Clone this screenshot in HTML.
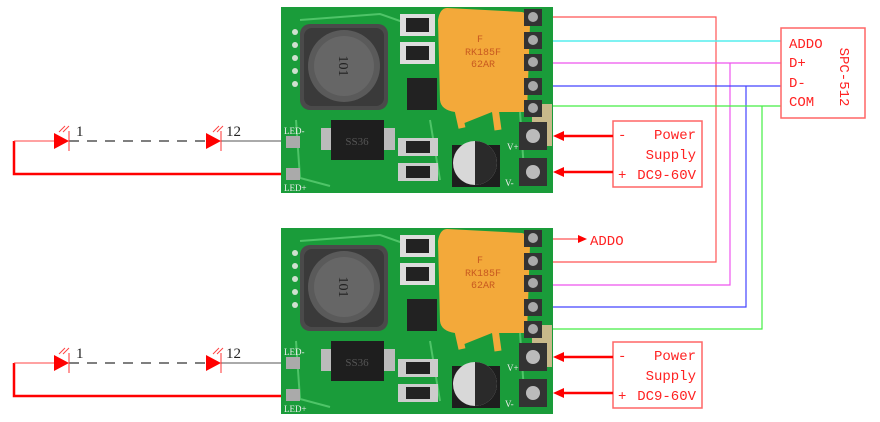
<!DOCTYPE html>
<html><head><meta charset="utf-8"><style>
html,body{margin:0;padding:0;background:#fff;width:880px;height:422px;overflow:hidden}
svg{display:block}
text{font-family:"Liberation Serif",serif}
.m{font-family:"Liberation Mono",monospace}
</style></head><body>
<svg width="880" height="422" viewBox="0 0 880 422" xmlns="http://www.w3.org/2000/svg">
<defs>
<g id="board">
  <rect x="281" y="7" width="272" height="186" fill="#1a9c3a"/>
  <path d="M300 20 L380 14 L420 28 M296 120 L300 178 L330 186 M430 120 L440 180 M520 112 L525 185" stroke="#4fc468" stroke-width="2" fill="none"/>
  <g fill="#cfe0cf"><circle cx="295" cy="32" r="3"/><circle cx="295" cy="45" r="3"/><circle cx="295" cy="58" r="3"/><circle cx="295" cy="71" r="3"/><circle cx="295" cy="84" r="3"/></g>
  <rect x="300" y="24" width="88" height="86" rx="10" fill="#4a4a4a"/>
  <rect x="304" y="28" width="80" height="78" rx="8" fill="#3a3a3a"/>
  <circle cx="344" cy="66" r="36" fill="#5a5a5a"/>
  <circle cx="344" cy="66" r="30" fill="#666"/>
  <text x="344" y="66" font-size="14" fill="#222" text-anchor="middle" transform="rotate(90 344 66)" dy="5">101</text>
  <rect x="400" y="14" width="35" height="22" fill="#ddd"/><rect x="406" y="18" width="23" height="14" fill="#222"/>
  <rect x="400" y="42" width="35" height="22" fill="#ddd"/><rect x="406" y="46" width="23" height="14" fill="#222"/>
  <rect x="407" y="78" width="30" height="32" fill="#222"/>
  <path d="M447 8 L522 12 Q530 14 530 24 L527 112 L492 112 L462 124 L455 112 Q441 110 440 100 L438 20 Q440 8 447 8 Z" fill="#f3a93a"/>
  <path d="M458 110 L462 128 M495 108 L498 130" stroke="#f3a93a" stroke-width="7"/>
  <text x="480" y="42" font-size="10" fill="#c85a20" text-anchor="middle" class="m">F</text>
  <text x="483" y="55" font-size="10" fill="#c85a20" text-anchor="middle" class="m">RK185F</text>
  <text x="483" y="67" font-size="10" fill="#c85a20" text-anchor="middle" class="m">62AR</text>
  <rect x="321" y="128" width="15" height="22" fill="#bbb"/><rect x="380" y="128" width="15" height="22" fill="#bbb"/>
  <rect x="331" y="120" width="53" height="40" fill="#1e1e1e"/>
  <text x="357" y="145" font-size="11" fill="#555" text-anchor="middle" font-family="Liberation Sans,sans-serif">SS36</text>
  <rect x="398" y="138" width="40" height="18" fill="#ccc"/><rect x="406" y="141" width="24" height="12" fill="#222"/>
  <rect x="398" y="163" width="40" height="18" fill="#ccc"/><rect x="406" y="166" width="24" height="12" fill="#222"/>
  <rect x="452" y="145" width="48" height="42" fill="#1e1e1e"/>
  <circle cx="475" cy="163" r="22" fill="#d8d8d8"/>
  <path d="M475 141 A22 22 0 0 1 475 185 Z" fill="#2a2a2a"/>
  <text x="284" y="134" font-size="9" fill="#eee" font-family="Liberation Sans,sans-serif">LED-</text>
  <rect x="286" y="136" width="14" height="12" fill="#aaa"/>
  <rect x="286" y="168" width="14" height="12" fill="#aaa"/>
  <text x="284" y="191" font-size="9" fill="#eee" font-family="Liberation Sans,sans-serif">LED+</text>
  <rect x="532" y="104" width="20" height="42" fill="#c8b98a"/>
  <g fill="#333"><rect x="524" y="9" width="18" height="17"/><rect x="524" y="32" width="18" height="17"/><rect x="524" y="54" width="18" height="17"/><rect x="524" y="78" width="18" height="17"/><rect x="524" y="100" width="18" height="17"/></g>
  <g fill="#aaa"><circle cx="533" cy="17" r="5"/><circle cx="533" cy="40" r="5"/><circle cx="533" cy="62" r="5"/><circle cx="533" cy="86" r="5"/><circle cx="533" cy="108" r="5"/></g>
  <rect x="519" y="122" width="28" height="28" fill="#333"/><circle cx="533" cy="136" r="7" fill="#bbb"/>
  <rect x="519" y="158" width="28" height="28" fill="#333"/><circle cx="533" cy="172" r="7" fill="#bbb"/>
  <text x="507" y="150" font-size="9" fill="#eee" font-family="Liberation Sans,sans-serif">V+</text>
  <text x="505" y="186" font-size="9" fill="#eee" font-family="Liberation Sans,sans-serif">V-</text>
</g>
<g id="leds">
  <path d="M14 141 L14 174 L281 174" stroke="#f00" stroke-width="2.5" fill="none"/>
  <path d="M14 141 L54 141" stroke="#f44" stroke-width="1" fill="none"/>
  <path d="M69 141 L206 141" stroke="#555" stroke-width="1.5" stroke-dasharray="10 8" fill="none"/>
  <path d="M221 141 L281 141" stroke="#555" stroke-width="1" fill="none"/>
  <polygon points="54,133 54,149 69,141" fill="#f00"/><line x1="69" y1="131" x2="69" y2="151" stroke="#f33"/>
  <polygon points="206,133 206,149 221,141" fill="#f00"/><line x1="221" y1="131" x2="221" y2="151" stroke="#f33"/>
  <path d="M59 132 L65 126 M63 132 L69 126 M213 132 L219 126 M217 132 L223 126" stroke="#f44" stroke-width="1"/>
  <text x="76" y="136" font-size="15" fill="#222">1</text>
  <text x="226" y="136" font-size="15" fill="#222">12</text>
</g>
<g id="power">
  <rect x="613" y="121" width="89" height="66" fill="#fff" stroke="#f66" stroke-width="1.5"/>
  <text x="618" y="139" font-size="14" fill="#f22" class="m">-</text>
  <text x="696" y="139" font-size="14" fill="#f22" text-anchor="end" class="m">Power</text>
  <text x="696" y="159" font-size="14" fill="#f22" text-anchor="end" class="m">Supply</text>
  <text x="618" y="179" font-size="14" fill="#f22" class="m">+</text>
  <text x="696" y="179" font-size="14" fill="#f22" text-anchor="end" class="m">DC9-60V</text>
  <path d="M613 136 L562 136 M613 172 L562 172" stroke="#f00" stroke-width="2.5"/>
  <polygon points="553,136 564,131 564,141" fill="#f00"/>
  <polygon points="553,172 564,167 564,177" fill="#f00"/>
</g>
</defs>
<use href="#board"/>
<use href="#board" transform="translate(0,221)"/>
<use href="#leds"/>
<use href="#leds" transform="translate(0,222)"/>
<use href="#power"/>
<use href="#power" transform="translate(0,221)"/>
<path d="M553 17 L716 17 L716 262 L553 262" stroke="#f55" stroke-width="1.2" fill="none"/>
<path d="M553 41 L781 41" stroke="#5ee" stroke-width="1.5" fill="none"/>
<path d="M553 63 L781 63 M730 63 L730 285 L553 285" stroke="#e5e" stroke-width="1.2" fill="none"/>
<path d="M553 86 L781 86 M746 86 L746 307 L553 307" stroke="#44f" stroke-width="1.2" fill="none"/>
<path d="M553 106 L781 106 M762 106 L762 329 L553 329" stroke="#4e4" stroke-width="1.2" fill="none"/>
<path d="M553 239 L578 239" stroke="#f55" stroke-width="1.2"/>
<polygon points="587,239 578,235 578,243" fill="#f00"/>
<text x="590" y="245" font-size="14" fill="#f22" class="m">ADDO</text>
<rect x="781" y="28" width="84" height="90" fill="#fff" stroke="#f66" stroke-width="1.5"/>
<text x="789" y="48" font-size="14" fill="#f22" class="m">ADDO</text>
<text x="789" y="67" font-size="14" fill="#f22" class="m">D+</text>
<text x="789" y="87" font-size="14" fill="#f22" class="m">D-</text>
<text x="789" y="106" font-size="14" fill="#f22" class="m">COM</text>
<text x="845" y="77" font-size="14" fill="#f22" text-anchor="middle" transform="rotate(90 845 77)" dy="5" class="m">SPC-512</text>
</svg>
</body></html>
